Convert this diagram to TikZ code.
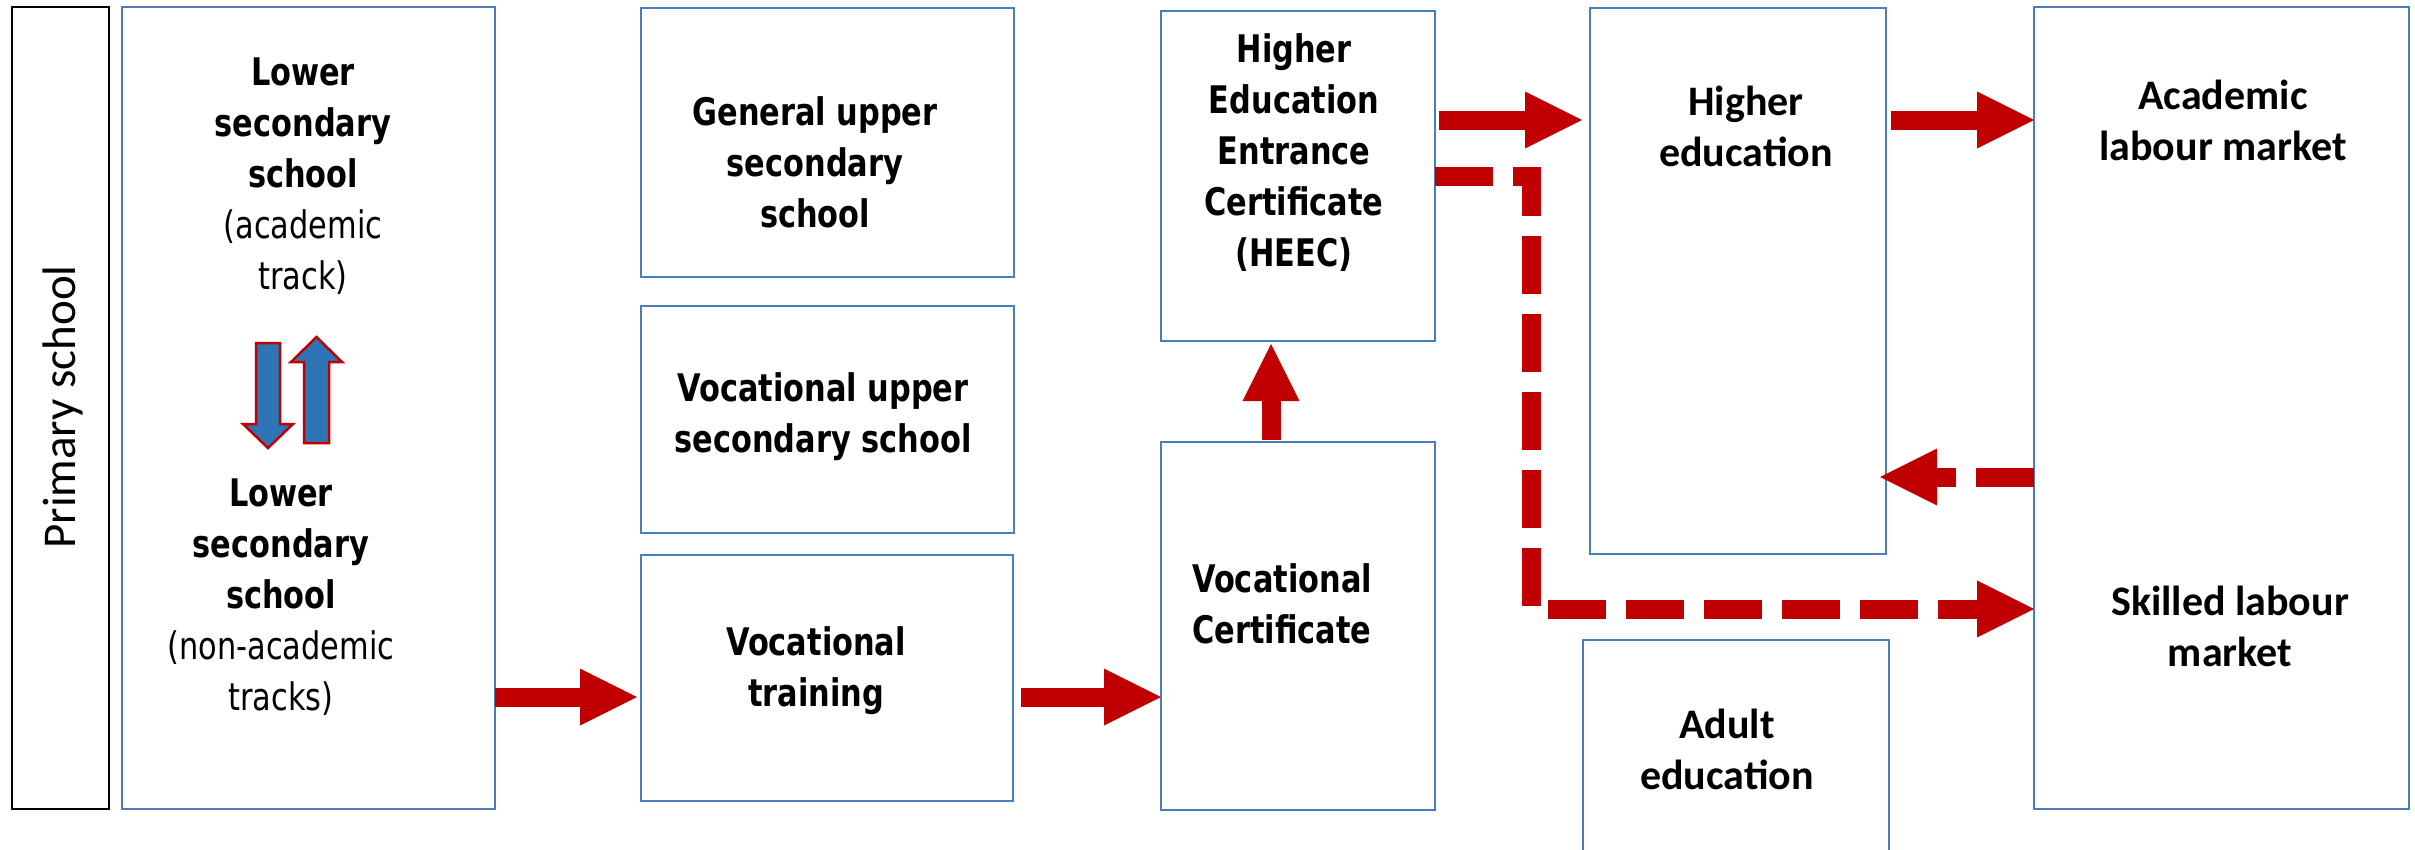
\documentclass[tikz,border=0pt]{standalone}
\usepackage{fontspec}
\usetikzlibrary{arrows.meta}
\newfontfamily\verdana[FakeStretch=0.8]{DejaVu Sans}
\newfontfamily\calibri{Carlito}
\definecolor{boxblue}{RGB}{74,126,187}
\definecolor{fillblue}{RGB}{46,117,182}
\definecolor{flowred}{RGB}{192,0,0}
\begin{document}
\begin{tikzpicture}[x=1pt,y=-1pt,
	box/.style={draw=boxblue,line width=2.5pt,anchor=north west,inner sep=0pt,outer sep=0pt},
	vtext/.style={font=\verdana\bfseries\fontsize{38}{51}\selectfont,align=center,inner sep=0pt},
	ctext/.style={font=\calibri\bfseries\fontsize{42}{51}\selectfont,align=center,inner sep=0pt},
	flow/.style={draw=flowred,line width=19pt,-{Triangle[length=57pt,width=57pt,line width=0pt]}},
	dashflow/.style={flow,dash pattern=on 58pt off 20pt},
	trackarrow/.style={draw=flowred,fill=fillblue,line width=2.5pt}]
	\useasboundingbox (0,0) rectangle (2415,849);
	\clip (0,0) rectangle (2415,849);
	% boxes
	\node[box,draw=black,minimum width=97pt,minimum height=802pt] (primary) at (12,7) {};
	\node[box,minimum width=373pt,minimum height=802pt] (lsbox) at (122,7) {};
	\node[box,minimum width=373pt,minimum height=269pt] (gusbox) at (641,8) {};
	\node[box,minimum width=373pt,minimum height=227pt] (vusbox) at (641,306) {};
	\node[box,minimum width=372pt,minimum height=246pt] (vtbox) at (641,555) {};
	\node[box,minimum width=274pt,minimum height=330pt] (heecbox) at (1161,11) {};
	\node[box,minimum width=274pt,minimum height=368pt] (vcbox) at (1161,442) {};
	\node[box,minimum width=296pt,minimum height=546pt] (hebox) at (1590,8) {};
	\node[box,minimum width=306pt,minimum height=260pt] (adultbox) at (1583,640) {};
	\node[box,minimum width=375pt,minimum height=802pt] (labourbox) at (2034,7) {};
	% texts
	\node[font=\calibri\fontsize{47}{56}\selectfont,rotate=90,inner sep=0pt] (primarytext) at (63,407) {Primary school};
	\node[vtext] (lsuptext) at (303,176) {Lower\\secondary\\school\\{\mdseries(academic}\\{\mdseries track)}};
	\node[vtext] (lslowtext) at (281,597) {Lower\\secondary\\school\\{\mdseries(non-academic}\\{\mdseries tracks)}};
	\node[vtext] (gustext) at (815,162) {General upper\\secondary\\school};
	\node[vtext] (vustext) at (823,417) {Vocational upper\\secondary school};
	\node[vtext] (vttext) at (816,671) {Vocational\\training};
	\node[vtext] (heectext) at (1294,153) {Higher\\Education\\Entrance\\Certificate\\(HEEC)};
	\node[vtext,align=left,anchor=west] (vctext) at (1192,604) {Vocational\\Certificate};
	\node[ctext] (hetext) at (1746,126) {Higher\\education};
	\node[ctext] (acadtext) at (2223,120) {Academic\\labour market};
	\node[ctext] (skilledtext) at (2230,626) {Skilled labour\\market};
	\node[ctext] (adulttext) at (1727,749) {Adult\\education};
	% switching between tracks
	\draw[trackarrow] (256,343) -- (280,343) -- (280,424) -- (293,424) -- (268,448) -- (243,424) -- (256,424) -- cycle;
	\draw[trackarrow] (304,443) -- (329,443) -- (329,362) -- (342,362) -- (316.5,337) -- (291,362) -- (304,362) -- cycle;
	% pathways
	\draw[flow,shorten >=4pt] (lsbox.east |- 0,697) -- (vtbox.west |- 0,697);
	\draw[flow,shorten <=8pt] (vtbox.east |- 0,697) -- (vcbox.west |- 0,697);
	\draw[flow,shorten <=2pt,shorten >=3pt] (vcbox.north -| 1271,0) -- (heecbox.south -| 1271,0);
	\draw[flow,shorten <=4pt,shorten >=8pt] (heecbox.east |- 0,120) -- (hebox.west |- 0,120);
	\draw[flow,shorten <=5pt] (hebox.east |- 0,120) -- (labourbox.west |- 0,120);
	\draw[dashflow,shorten >=-6pt] (labourbox.west |- 0,477) -- (hebox.east |- 0,477);
	\draw[dashflow] (heecbox.east |- 0,176) -| (1531,609) -- (labourbox.west |- 0,609);
\end{tikzpicture}
\end{document}
